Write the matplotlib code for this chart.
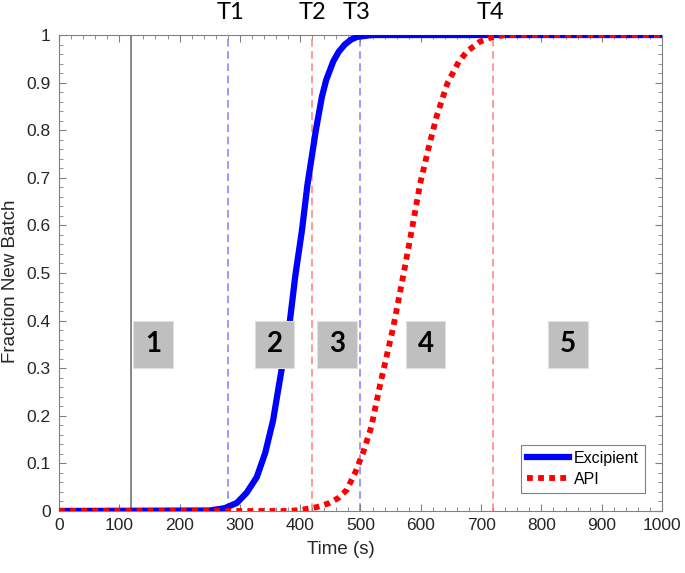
import numpy as np
import matplotlib
matplotlib.use("Agg")
import matplotlib.pyplot as plt
from matplotlib.patches import Rectangle
from matplotlib.ticker import MultipleLocator

# Excipient curve
t_exc = [0, 250, 275, 295, 311, 328, 342, 355, 369, 383, 392, 403, 412, 426,
         436, 443, 455, 464, 474, 484, 494, 520, 1000]
f_exc = [0, 0.001, 0.006, 0.017, 0.038, 0.071, 0.122, 0.19, 0.296, 0.40,
         0.495, 0.59, 0.685, 0.80, 0.87, 0.905, 0.945, 0.965, 0.98, 0.99,
         0.996, 1.0, 1.0]

# API curve
t_api = [0, 380, 400, 427, 447, 463, 477, 491, 505, 518, 533, 554, 571, 585,
         599, 612, 626, 644, 663, 677, 698, 717, 740, 1000]
f_api = [0, 0, 0.002, 0.008, 0.016, 0.027, 0.044, 0.08, 0.125, 0.177, 0.268,
         0.384, 0.495, 0.59, 0.688, 0.758, 0.828, 0.898, 0.944, 0.966, 0.986,
         0.995, 1.0, 1.0]

t_marks = [280, 420, 500, 720]
t_label_x = [284, 420, 494, 716]
t_names = ["T1", "T2", "T3", "T4"]
t_colors = ["#7f7fff", "#ff7f7f", "#7f7fff", "#ff7f7f"]
start_time = 120

zone_x = [156, 358, 461, 608, 844]
zone_names = ["1", "2", "3", "4", "5"]
zone_y = 0.35

plt.rcParams["font.family"] = "Liberation Sans"

fig = plt.figure(figsize=(6.85, 5.73), dpi=100)
ax = fig.add_axes([0.0861, 0.1082, 0.8803, 0.8307])

ax.axvline(start_time, color="#7f7f7f", lw=1.3, zorder=1)
for x, c in zip(t_marks, t_colors):
    ax.axvline(x, color=c, lw=1.1, ls=(0, (5, 3)), zorder=1)
for x, name in zip(t_label_x, t_names):
    ax.text(x, 1.047, name, ha="center", va="center", fontsize=17,
            family="Lato", clip_on=False)

ax.plot(t_exc, f_exc, color="#0000ff", lw=4.5, label="Excipient", zorder=3,
        solid_joinstyle="round")
ax.plot(t_api, f_api, color="#ff0000", lw=4.2, ls=(0, (1, 0.9)),
        dash_capstyle="butt", label="API", zorder=4)

for x, name in zip(zone_x, zone_names):
    ax.add_patch(Rectangle((x - 32.5, zone_y - 0.049), 65, 0.098,
                           facecolor="#bfbfbf", edgecolor="#e0e0e0", lw=0.8,
                           zorder=5))
    ax.text(x, zone_y, name, ha="center", va="center", fontsize=20,
            fontweight="bold", family="Lato", zorder=6)

ax.set_xlim(0, 1000)
ax.set_ylim(0, 1)
ax.xaxis.set_major_locator(MultipleLocator(100))
ax.xaxis.set_minor_locator(MultipleLocator(20))
ax.yaxis.set_minor_locator(MultipleLocator(0.02))
ax.set_yticks(np.arange(0, 1.01, 0.1))
ax.set_yticklabels(["0", "0.1", "0.2", "0.3", "0.4", "0.5", "0.6", "0.7",
                    "0.8", "0.9", "1"])
ax.tick_params(which="both", direction="in", top=True, right=True,
               colors="#808080", labelcolor="#262626", labelsize=12.5)
ax.tick_params(which="major", length=5)
ax.tick_params(which="minor", length=3)
ax.tick_params(axis="y", pad=6)
ax.tick_params(axis="x", pad=5)
for s in ax.spines.values():
    s.set_color("#808080")

ax.set_xlabel("Time (s)", fontsize=13.5, color="#262626")
ax.xaxis.set_label_coords(0.468, -0.063)
ax.set_ylabel("Fraction New Batch", fontsize=13.5, color="#262626")
ax.yaxis.set_label_coords(-0.066, 0.483)

leg = ax.legend(loc="lower right", bbox_to_anchor=(0.972, 0.038),
                borderaxespad=0, fontsize=11.5, fancybox=False,
                edgecolor="#808080", framealpha=1, handlelength=2.6,
                borderpad=0.4, labelspacing=0.35, handletextpad=0.3)
leg.get_frame().set_linewidth(0.8)

fig.savefig("out.png", dpi=100)
